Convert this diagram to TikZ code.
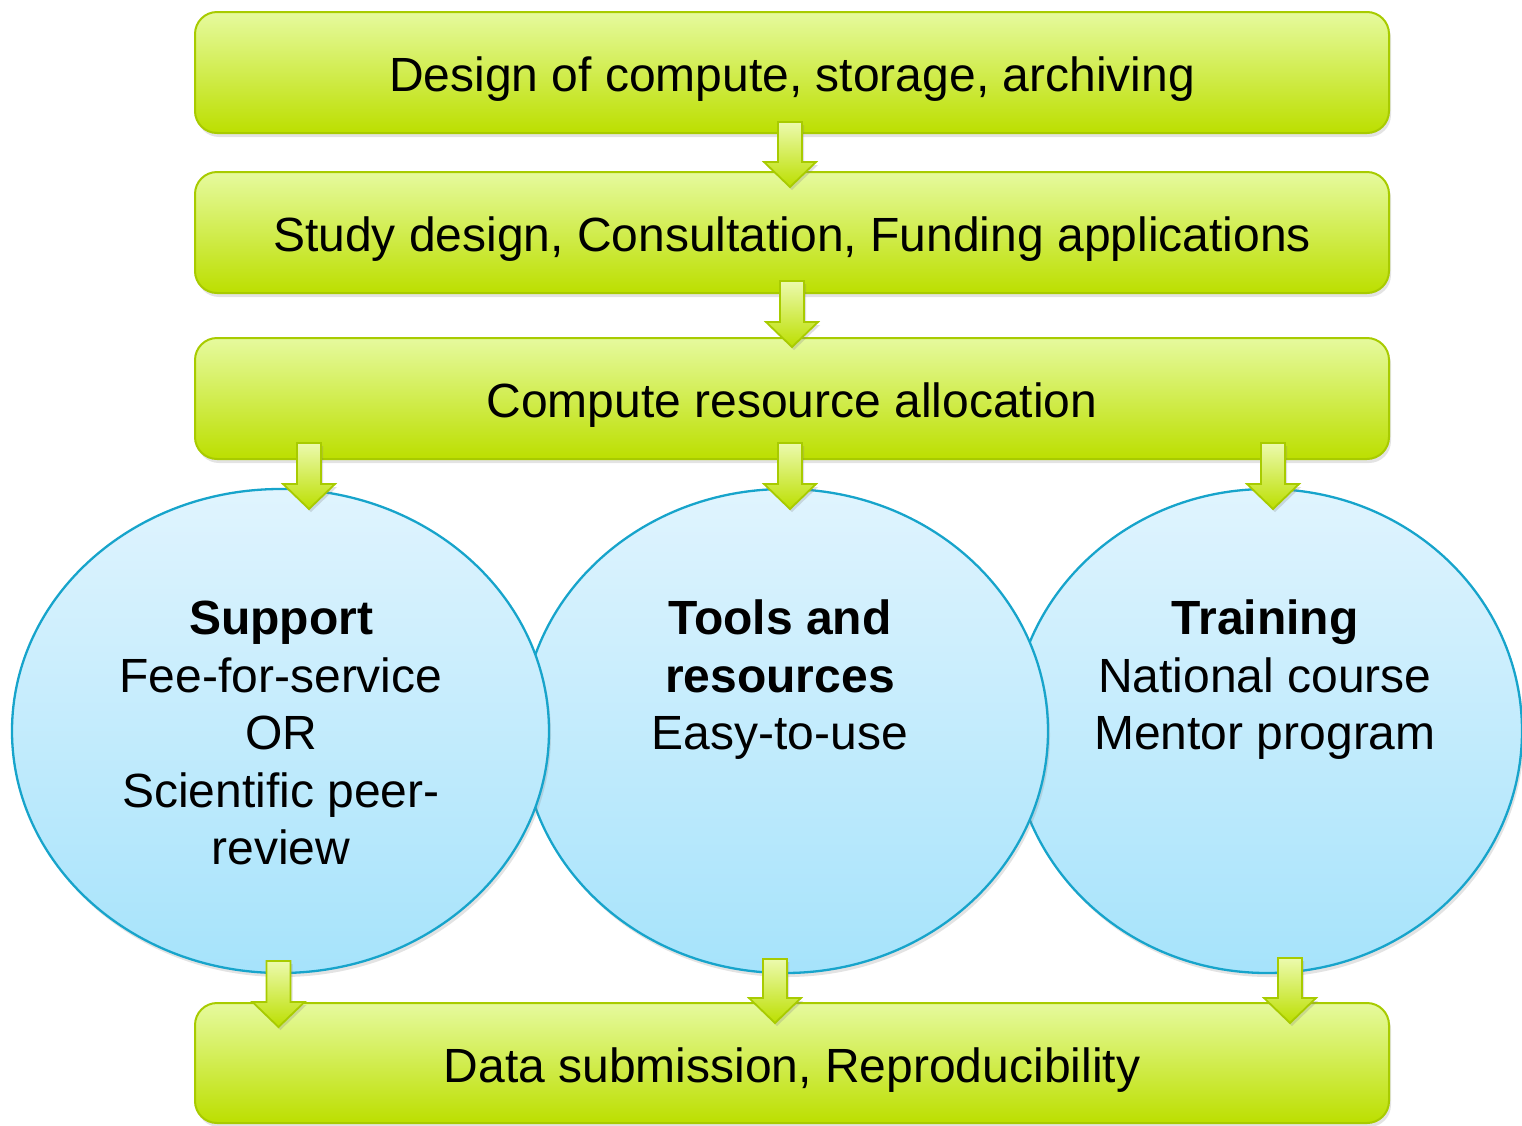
\documentclass[tikz,border=0pt]{standalone}
\usepackage{fontspec}
\setmainfont{Liberation Sans}
\usetikzlibrary{shapes.geometric,shadows,calc}
\definecolor{gtop}{HTML}{E6FA9E}
\definecolor{gbot}{HTML}{BCDF00}
\definecolor{gborder}{HTML}{A8CB00}
\definecolor{atop}{HTML}{ECFAAE}
\definecolor{etop}{HTML}{E0F4FE}
\definecolor{ebot}{HTML}{A6E3FB}
\definecolor{eborder}{HTML}{17A4CB}
\newcommand\blkarrow[2]{\path[garrow] let \p1=(#1), \p2=(#2) in
  (\x1-12pt,\y1) -- (\x1+12pt,\y1) -- (\x1+12pt,\y2+25pt) -- (\x1+26pt,\y2+25pt)
  -- (\x1,\y2) -- (\x1-26pt,\y2+25pt) -- (\x1-12pt,\y2+25pt) -- cycle;}
\begin{document}
\begin{tikzpicture}[x=1pt,y=-1pt,
  bigfont/.style={font=\fontsize{48}{57.5}\selectfont},
  gbox/.style={draw=gborder, line width=2pt, rounded corners=22pt,
    top color=gtop, bottom color=gbot, minimum width=1194pt, minimum height=121pt,
    inner sep=0pt, bigfont, text height=38pt, text depth=0pt,
    drop shadow={shadow xshift=2pt, shadow yshift=-4pt, opacity=.22}},
  bell/.style={ellipse, draw=eborder, line width=2.3pt, top color=etop, bottom color=ebot,
    inner sep=0pt, minimum height=484pt,
    drop shadow={shadow xshift=2pt, shadow yshift=-4pt, opacity=.22}},
  etext/.style={align=center, bigfont, inner sep=0pt},
  garrow/.style={draw=gborder, line width=1.8pt, top color=atop, bottom color=gbot,
    drop shadow={shadow xshift=2pt, shadow yshift=-3pt, opacity=.25}}]
\useasboundingbox (0,0) rectangle (1522,1125);

\node[gbox] (b1) at (792,72.5) {Design of compute, storage, archiving};
\node[gbox] (b2) at (792,232.5) {Study design, Consultation, Funding applications};
\node[gbox] (b3) at (792,398.5) {Compute resource allocation};

\node[bell, minimum width=510pt] (e3) at (1267,731) {};
\node[bell, minimum width=526pt] (e2) at (785,731) {};
\node[bell, minimum width=537pt] (e1) at (280.5,731) {};

\node[etext] (t1) at (281,733) {\textbf{Support}\\Fee-for-service\\OR\\Scientific peer-\\review};
\node[etext] (t2) at (780,680) {\textbf{Tools and}\\\textbf{resources}\\Easy-to-use};
\node[etext] (t3) at (1265,680) {\textbf{Training}\\National course\\Mentor program};

\node[gbox, minimum height=120pt] (b5) at (792,1063) {Data submission, Reproducibility};

\coordinate (a1s) at (790,122);  \coordinate (a1e) at (790,187);
\coordinate (a2s) at (792,281);  \coordinate (a2e) at (792,347);
\coordinate (a3s) at (309,443);  \coordinate (a3e) at (309,509);
\coordinate (a4s) at (790,443);  \coordinate (a4e) at (790,509);
\coordinate (a5s) at (1273,443); \coordinate (a5e) at (1273,509);
\coordinate (a6s) at (278.5,961); \coordinate (a6e) at (278.5,1027);
\coordinate (a7s) at (775,959);  \coordinate (a7e) at (775,1023);
\coordinate (a8s) at (1290,958); \coordinate (a8e) at (1290,1023);

\blkarrow{a1s}{a1e}
\blkarrow{a2s}{a2e}
\blkarrow{a3s}{a3e}
\blkarrow{a4s}{a4e}
\blkarrow{a5s}{a5e}
\blkarrow{a6s}{a6e}
\blkarrow{a7s}{a7e}
\blkarrow{a8s}{a8e}
\end{tikzpicture}
\end{document}
